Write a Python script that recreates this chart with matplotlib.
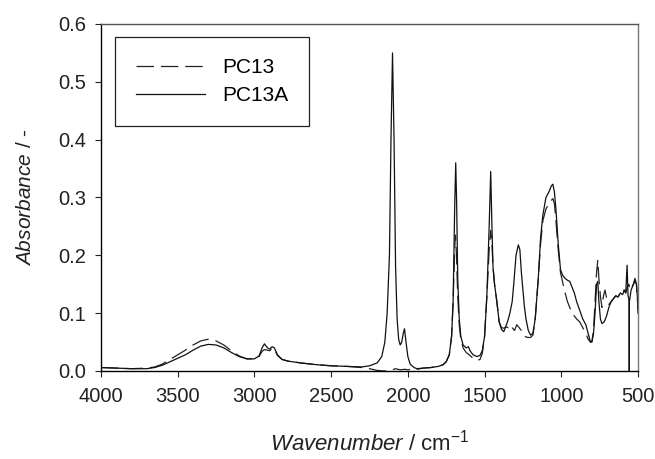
import matplotlib
matplotlib.use('Agg')
import matplotlib.pyplot as plt

plt.rcParams['font.family'] = ['Liberation Sans', 'DejaVu Sans']
plt.rcParams['mathtext.fontset'] = 'custom'
plt.rcParams['mathtext.rm'] = 'Liberation Sans'
plt.rcParams['mathtext.it'] = 'Liberation Sans:italic'

# PC13A (solid)
wn_a = [4000, 3900, 3800, 3700, 3650, 3600, 3550, 3500, 3450, 3400, 3350, 3300,
        3250, 3200, 3150, 3100, 3050, 3000, 2970, 2950, 2935, 2915, 2900, 2885,
        2870, 2850, 2820, 2780, 2700, 2600, 2500, 2400, 2300, 2250, 2200, 2170,
        2150, 2135, 2120, 2110, 2100, 2090, 2080, 2070, 2060, 2050, 2040, 2030,
        2022, 2012, 2000, 1985, 1960, 1940, 1900, 1850, 1800, 1770, 1750, 1730,
        1715, 1705, 1695, 1688, 1682, 1675, 1665, 1655, 1640, 1620, 1605, 1595,
        1575, 1550, 1530, 1515, 1500, 1485, 1470, 1460, 1452, 1445, 1435, 1420,
        1405, 1390, 1375, 1360, 1345, 1335, 1320, 1310, 1295, 1280, 1270, 1260,
        1250, 1240, 1230, 1215, 1200, 1185, 1170, 1150, 1135, 1120, 1100, 1080,
        1065, 1055, 1045, 1035, 1020, 1005, 990, 975, 960, 945, 930, 915, 900,
        880, 860, 840, 825, 810, 800, 790, 780, 770, 762, 755, 745, 735, 720,
        705, 690, 675, 660, 645, 630, 615, 600, 590, 580, 571, 565, 560,
        558, 557, 556, 545, 530, 520, 510, 502, 500]
abs_a = [0.006, 0.005, 0.004, 0.004, 0.006, 0.010, 0.016, 0.022, 0.028, 0.036, 0.043, 0.046,
         0.045, 0.040, 0.032, 0.025, 0.021, 0.021, 0.026, 0.040, 0.047, 0.040, 0.038, 0.042,
         0.040, 0.028, 0.020, 0.017, 0.014, 0.011, 0.009, 0.008, 0.007, 0.009, 0.014, 0.025,
         0.050, 0.100, 0.200, 0.400, 0.550, 0.400, 0.180, 0.090, 0.055, 0.045, 0.050, 0.065,
         0.073, 0.050, 0.025, 0.012, 0.006, 0.004, 0.005, 0.006, 0.008, 0.011, 0.016, 0.028,
         0.060, 0.120, 0.280, 0.360, 0.290, 0.160, 0.090, 0.060, 0.045, 0.040, 0.042, 0.035,
         0.028, 0.025, 0.027, 0.035, 0.060, 0.130, 0.250, 0.345, 0.250, 0.180, 0.150, 0.120,
         0.085, 0.072, 0.068, 0.078, 0.090, 0.100, 0.120, 0.150, 0.200, 0.218, 0.210, 0.170,
         0.140, 0.110, 0.090, 0.070, 0.062, 0.065, 0.090, 0.160, 0.230, 0.270, 0.300, 0.310,
         0.320, 0.323, 0.310, 0.280, 0.220, 0.175, 0.165, 0.160, 0.157, 0.155, 0.145, 0.135, 0.120,
         0.105, 0.090, 0.080, 0.065, 0.050, 0.050, 0.065, 0.100, 0.150, 0.155, 0.120, 0.090, 0.082, 0.085,
         0.095, 0.110, 0.120, 0.125, 0.130, 0.128, 0.135, 0.132, 0.140, 0.135, 0.183, 0.130, 0.125,
         0.120, 0.000, 0.120, 0.140, 0.150, 0.160, 0.150, 0.120, 0.100]

# PC13 (dashed)
wn_b = [4000, 3800, 3700, 3650, 3600, 3550, 3500, 3450, 3400, 3350, 3300, 3250,
        3200, 3150, 3100, 3050, 3000, 2970, 2950, 2935, 2915, 2900, 2885, 2870,
        2850, 2820, 2780, 2700, 2600, 2500, 2400, 2300, 2250, 2200, 2150, 2100,
        2080, 2050, 2020, 2000, 1960, 1940, 1900, 1850, 1800, 1770, 1750, 1730,
        1715, 1705, 1695, 1690, 1683, 1675, 1665, 1655, 1640, 1620, 1600, 1575,
        1550, 1530, 1515, 1500, 1485, 1470, 1460, 1452, 1445, 1435, 1420, 1405,
        1390, 1375, 1360, 1345, 1330, 1320, 1305, 1290, 1275, 1260, 1240, 1220,
        1200, 1185, 1170, 1150, 1135, 1120, 1100, 1080, 1065, 1055, 1045, 1035,
        1020, 1005, 990, 975, 960, 945, 930, 915, 900, 880, 860, 840, 825, 810,
        800, 790, 780, 770, 762, 755, 745, 735, 725, 715, 700, 690, 675, 660,
        645, 630, 615, 600, 590, 580, 570, 560, 550, 530, 520, 510, 500]
abs_b = [0.006, 0.004, 0.005, 0.007, 0.012, 0.020, 0.028, 0.036, 0.045, 0.052, 0.055, 0.052,
         0.045, 0.035, 0.026, 0.021, 0.021, 0.025, 0.034, 0.037, 0.036, 0.035, 0.040, 0.038,
         0.027, 0.020, 0.017, 0.014, 0.011, 0.009, 0.008, 0.006, 0.004, 0.001, 0.000, 0.002,
         0.004, 0.002, 0.003, 0.002, 0.004, 0.003, 0.005, 0.006, 0.008, 0.011, 0.016, 0.028,
         0.060, 0.120, 0.210, 0.235, 0.200, 0.130, 0.080, 0.055, 0.040, 0.032, 0.028, 0.022,
         0.018, 0.020, 0.030, 0.060, 0.130, 0.210, 0.243, 0.220, 0.180, 0.150, 0.120, 0.085,
         0.075, 0.074, 0.076, 0.075, 0.080, 0.075, 0.070, 0.080, 0.075, 0.070, 0.060, 0.058,
         0.058, 0.062, 0.090, 0.160, 0.220, 0.260, 0.280, 0.290, 0.295, 0.298, 0.290, 0.260,
         0.210, 0.170, 0.152, 0.135, 0.120, 0.110, 0.100, 0.095, 0.090, 0.085, 0.075, 0.065, 0.055, 0.050,
         0.052, 0.070, 0.120, 0.170, 0.192, 0.160, 0.129, 0.110, 0.130, 0.140, 0.120, 0.115, 0.120, 0.125,
         0.130, 0.128, 0.135, 0.132, 0.140, 0.135, 0.145, 0.150, 0.140, 0.150, 0.155, 0.150, 0.105]

fig = plt.figure(figsize=(6.55, 4.59), dpi=100)
ax = fig.add_axes([101 / 655, 1 - 371 / 459, 537 / 655, 347 / 459])

ax.plot(wn_b, abs_b, color='#222222', lw=0.9, dashes=(14, 5.5), label='PC13')
ax.plot(wn_a, abs_a, color='#111111', lw=0.9, label='PC13A')

ax.set_xlim(4000, 500)
ax.set_ylim(0, 0.6)
ax.set_xticks(range(4000, 499, -500))
ax.set_yticks([0.0, 0.1, 0.2, 0.3, 0.4, 0.5, 0.6])
ax.set_yticklabels(['0.0', '0.1', '0.2', '0.3', '0.4', '0.5', '0.6'])
ax.tick_params(direction='out', length=4.5, width=0.8, labelsize=14.5, colors='#222222')
ax.tick_params(axis='x', pad=7)
ax.tick_params(axis='y', pad=6)

ax.spines['top'].set_color('#555555')
ax.spines['right'].set_color('#777777')
for s in ax.spines.values():
    s.set_linewidth(1.0)

ax.set_xlabel(r'$\mathit{Wavenumber}$ / cm$^{-1}$', fontsize=16, labelpad=17, color='#222222')
ax.set_ylabel(r'$\mathit{Absorbance}$ / -', fontsize=15, labelpad=17, color='#222222')

leg = ax.legend(loc='upper left', bbox_to_anchor=(0.026, 0.9625), borderaxespad=0,
                fontsize=15, handlelength=3.3, handletextpad=0.85, borderpad=1.0,
                labelspacing=0.43, fancybox=False, edgecolor='#222222', framealpha=1)
leg.get_frame().set_linewidth(0.9)

fig.savefig('out.png', dpi=100)
